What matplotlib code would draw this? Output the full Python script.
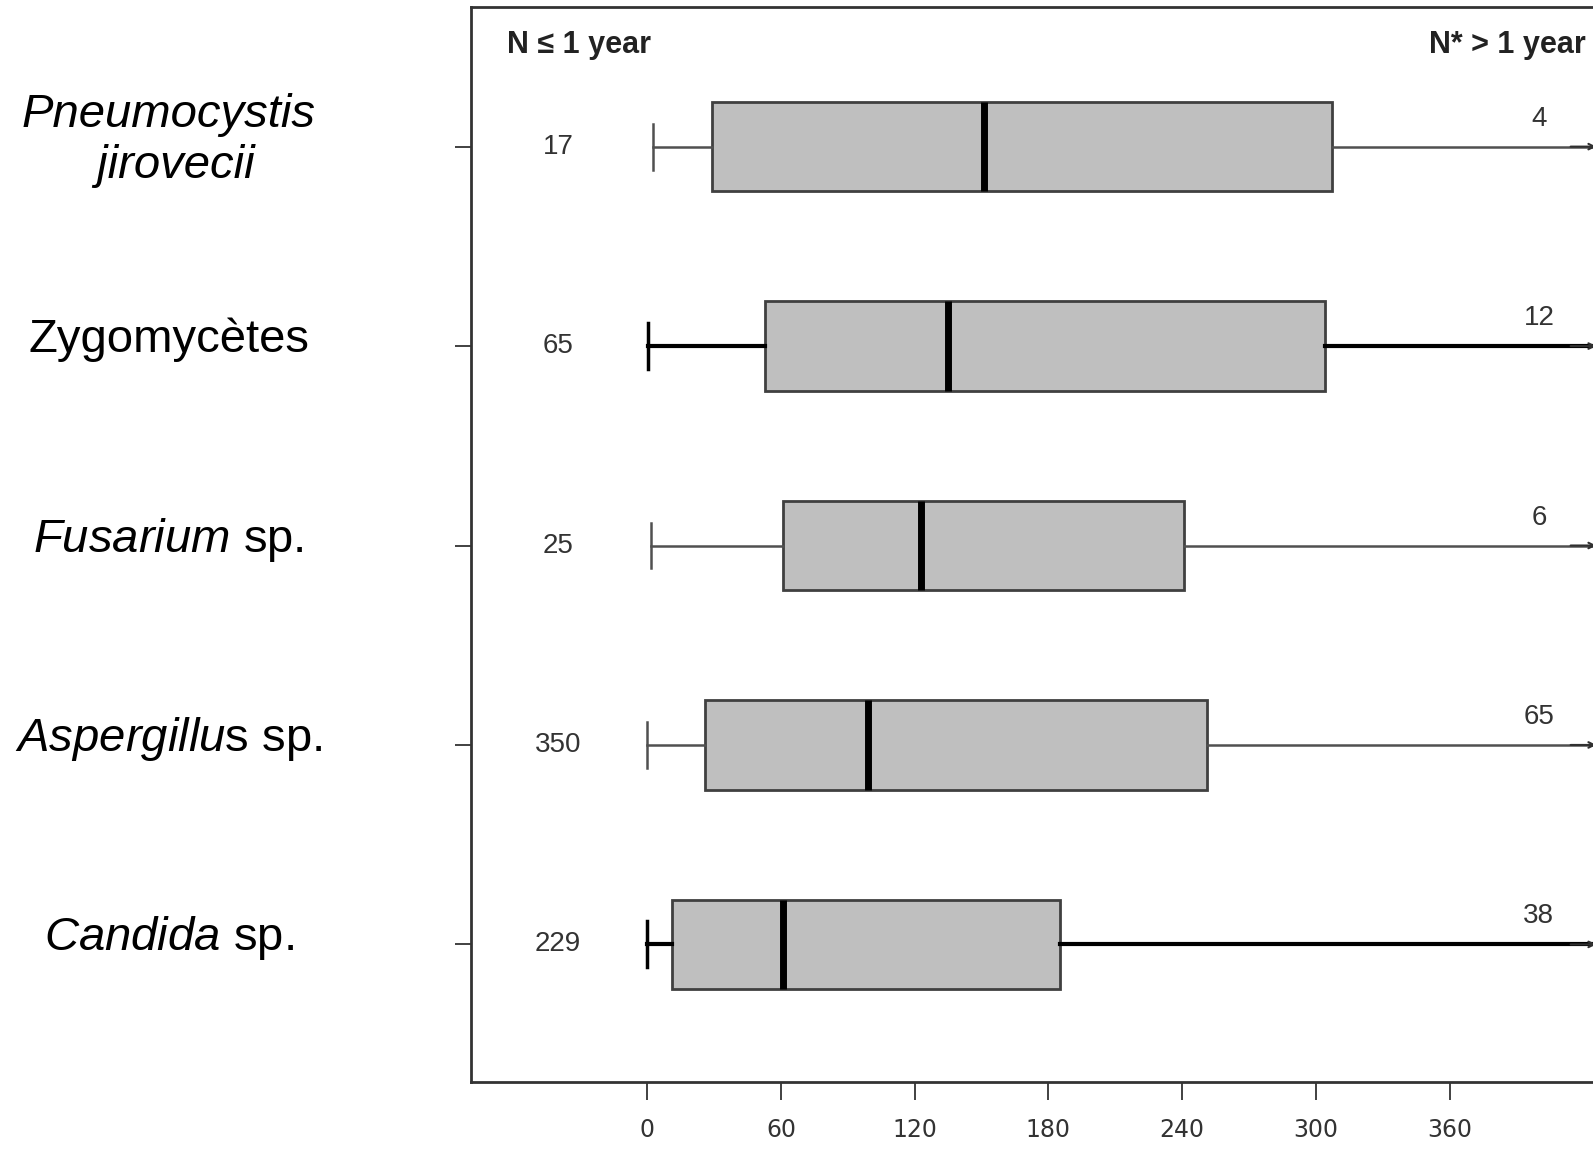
import matplotlib
matplotlib.use("Agg")
import matplotlib.pyplot as plt
import matplotlib.transforms as mtransforms

plt.rcParams['font.family'] = ['Liberation Sans', 'DejaVu Sans']
plt.rcParams['mathtext.fontset'] = 'custom'
plt.rcParams['mathtext.it'] = 'Liberation Sans:italic'
plt.rcParams['mathtext.rm'] = 'Liberation Sans'

# Data, top row first (days)
labels = ["Pneumocystis\n jirovecii", "Zygomycètes", r"$\mathit{Fusarium}$ sp.",
          r"$\mathit{Aspergillu}$s sp.", r"$\mathit{Candida}$ sp."]
label_italic = [True, False, False, False, False]
whis_low = [2.7, 0.5, 1.8, 0.0, 0.0]
q1 = [29, 53, 61, 26, 11]
median = [151, 135, 123, 99, 61]
q3 = [307, 304, 241, 251, 185]
whis_high = [425, 425, 425, 425, 425]
n_le_1y = [17, 65, 25, 350, 229]
n_gt_1y = [4, 12, 6, 65, 38]
thick_whisker = [False, True, False, False, True]
xticks = [0, 60, 120, 180, 240, 300, 360]

positions = [5, 4, 3, 2, 1]

fig = plt.figure(figsize=(15.93, 11.49), dpi=100)
ax = fig.add_axes([0.2957, 0.0583, 0.7263, 0.9356])

stats = []
for i in range(len(labels)):
    stats.append(dict(med=median[i], q1=q1[i], q3=q3[i],
                      whislo=whis_low[i], whishi=whis_high[i], fliers=[]))

parts = ax.bxp(stats, positions=positions, orientation='horizontal',
               widths=0.45, capwidths=0.23, patch_artist=True, showfliers=False,
               boxprops=dict(facecolor='#bfbfbf', edgecolor='#404040', linewidth=2),
               medianprops=dict(color='black', linewidth=5, solid_capstyle='butt'),
               whiskerprops=dict(color='#505050', linewidth=1.8),
               capprops=dict(color='#505050', linewidth=1.8))

for i in range(len(labels)):
    if thick_whisker[i]:
        for art in parts['whiskers'][2 * i:2 * i + 2]:
            art.set_color('black')
            art.set_linewidth(3)
        parts['caps'][2 * i].set_color('black')
        parts['caps'][2 * i].set_linewidth(2.5)
    # hide the upper cap; whisker runs off to an arrow
    parts['caps'][2 * i + 1].set_visible(False)
    ax.annotate('', xy=(whis_high[i] + 2, positions[i]), xytext=(whis_high[i] - 12, positions[i]),
                arrowprops=dict(arrowstyle='->', color='#303030', lw=1.5))

# counts
for i in range(len(labels)):
    ax.text(-40, positions[i], str(n_le_1y[i]), ha='center', va='center',
            fontsize=20, color='#333333')
    ax.text(400, positions[i] + 0.14, str(n_gt_1y[i]), ha='center', va='center',
            fontsize=20, color='#333333')

ax.text(-63, 5.51, "N ≤ 1 year", ha='left', va='center', fontsize=22,
        fontweight='bold', color='#222222')
ax.text(421, 5.51, "N* > 1 year", ha='right', va='center', fontsize=22,
        fontweight='bold', color='#222222')

# species labels on the left
trans = mtransforms.blended_transform_factory(fig.transFigure, ax.transData)
for i in range(len(labels)):
    ax.text(0.106, positions[i] + 0.03, labels[i], transform=trans, ha='center', va='center',
            fontsize=34, style='italic' if label_italic[i] else 'normal',
            linespacing=1.2, clip_on=False)

ax.set_xlim(-79, 440)
ax.set_ylim(0.31, 5.70)
ax.set_xticks(xticks)
ax.set_xticklabels([str(t) for t in xticks], fontsize=17, color='#333333',
                   family=['DejaVu Sans'])
ax.set_yticks(positions)
ax.set_yticklabels([])
ax.tick_params(axis='x', direction='out', length=13, width=1.3, color='#333333', pad=13)
ax.tick_params(axis='y', direction='out', length=11.5, width=1.3, color='#333333')
for s in ax.spines.values():
    s.set_linewidth(2)
    s.set_color('#333333')

fig.savefig("out.png", dpi=100)
